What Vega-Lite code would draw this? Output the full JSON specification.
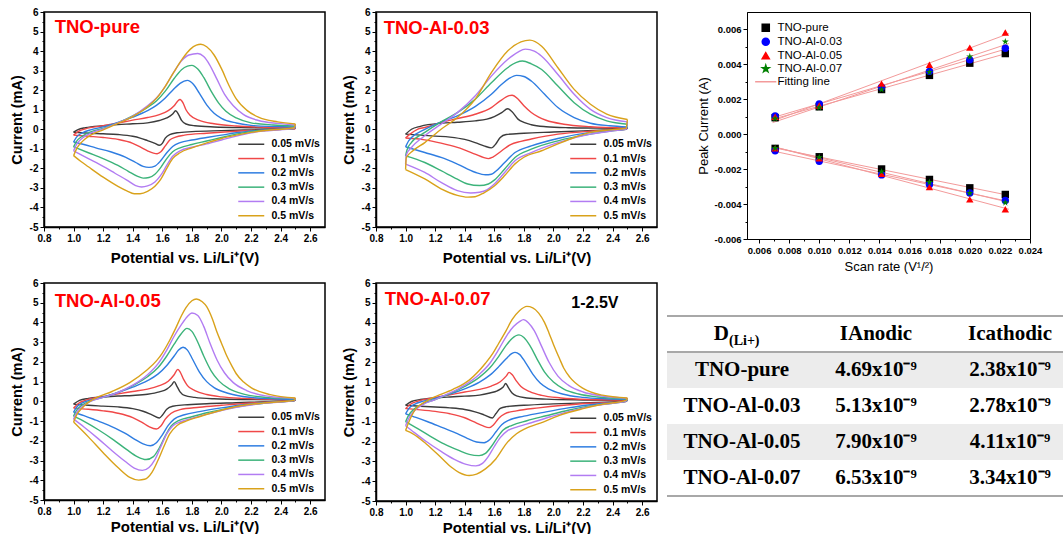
{
"$schema":"https://vega.github.io/schema/vega-lite/v6.json",
"background":"white",
"padding":{"left":8,"top":6,"right":0,"bottom":0},
"spacing":3,
"resolve":{"scale":{"color":"independent","shape":"independent"},"legend":{"color":"independent","shape":"independent"}},
"config":{
"font":"Liberation Sans",
"view":{"stroke":"#000","strokeWidth":1.5},
"axis":{"grid":false,"domainColor":"#000","tickColor":"#000","labelColor":"#000","titleColor":"#000","labelFont":"Liberation Sans","titleFont":"Liberation Sans","labelFontWeight":"bold","labelFontSize":10,"titleFontWeight":"bold","labelOverlap":false,"labelFlush":false,"labelPadding":2}
},
"datasets":{
"p1":[
{"r":0.05,"b":0,"v":1,"i":-0.15},{"r":0.05,"b":0,"v":1.03,"i":-0.02},{"r":0.05,"b":0,"v":1.08,"i":0.08},{"r":0.05,"b":0,"v":1.2,"i":0.18},{"r":0.05,"b":0,"v":1.3,"i":0.24},{"r":0.05,"b":0,"v":1.4,"i":0.28},{"r":0.05,"b":0,"v":1.5,"i":0.33},{"r":0.05,"b":0,"v":1.58,"i":0.45},{"r":0.05,"b":0,"v":1.63,"i":0.58},{"r":0.05,"b":0,"v":1.67,"i":0.78},{"r":0.05,"b":0,"v":1.69,"i":0.95},{"r":0.05,"b":0,"v":1.71,"i":0.75},{"r":0.05,"b":0,"v":1.73,"i":0.45},{"r":0.05,"b":0,"v":1.76,"i":0.27},{"r":0.05,"b":0,"v":1.82,"i":0.18},{"r":0.05,"b":0,"v":1.95,"i":0.12},{"r":0.05,"b":0,"v":2.2,"i":0.08},{"r":0.05,"b":0,"v":2.5,"i":0.05},
{"r":0.05,"b":1,"v":1,"i":-0.15},{"r":0.05,"b":1,"v":1.1,"i":-0.2},{"r":0.05,"b":1,"v":1.2,"i":-0.23},{"r":0.05,"b":1,"v":1.3,"i":-0.27},{"r":0.05,"b":1,"v":1.4,"i":-0.36},{"r":0.05,"b":1,"v":1.45,"i":-0.45},{"r":0.05,"b":1,"v":1.5,"i":-0.58},{"r":0.05,"b":1,"v":1.55,"i":-0.72},{"r":0.05,"b":1,"v":1.58,"i":-0.82},{"r":0.05,"b":1,"v":1.6,"i":-0.72},{"r":0.05,"b":1,"v":1.62,"i":-0.45},{"r":0.05,"b":1,"v":1.65,"i":-0.27},{"r":0.05,"b":1,"v":1.7,"i":-0.18},{"r":0.05,"b":1,"v":1.8,"i":-0.12},{"r":0.05,"b":1,"v":2,"i":-0.07},{"r":0.05,"b":1,"v":2.2,"i":-0.03},{"r":0.05,"b":1,"v":2.49,"i":0.02},{"r":0.05,"b":1,"v":2.5,"i":0.05},
{"r":0.1,"b":0,"v":1,"i":-0.3},{"r":0.1,"b":0,"v":1.03,"i":-0.12},{"r":0.1,"b":0,"v":1.08,"i":0.02},{"r":0.1,"b":0,"v":1.2,"i":0.18},{"r":0.1,"b":0,"v":1.3,"i":0.32},{"r":0.1,"b":0,"v":1.4,"i":0.47},{"r":0.1,"b":0,"v":1.5,"i":0.6},{"r":0.1,"b":0,"v":1.58,"i":0.75},{"r":0.1,"b":0,"v":1.64,"i":0.95},{"r":0.1,"b":0,"v":1.68,"i":1.2},{"r":0.1,"b":0,"v":1.705,"i":1.45},{"r":0.1,"b":0,"v":1.72,"i":1.52},{"r":0.1,"b":0,"v":1.74,"i":1.35},{"r":0.1,"b":0,"v":1.76,"i":1.0},{"r":0.1,"b":0,"v":1.79,"i":0.7},{"r":0.1,"b":0,"v":1.85,"i":0.45},{"r":0.1,"b":0,"v":1.95,"i":0.28},{"r":0.1,"b":0,"v":2.1,"i":0.17},{"r":0.1,"b":0,"v":2.3,"i":0.1},{"r":0.1,"b":0,"v":2.5,"i":0.07},
{"r":0.1,"b":1,"v":1,"i":-0.3},{"r":0.1,"b":1,"v":1.1,"i":-0.36},{"r":0.1,"b":1,"v":1.2,"i":-0.42},{"r":0.1,"b":1,"v":1.3,"i":-0.52},{"r":0.1,"b":1,"v":1.4,"i":-0.72},{"r":0.1,"b":1,"v":1.45,"i":-0.9},{"r":0.1,"b":1,"v":1.5,"i":-1.1},{"r":0.1,"b":1,"v":1.54,"i":-1.22},{"r":0.1,"b":1,"v":1.565,"i":-1.25},{"r":0.1,"b":1,"v":1.59,"i":-1.15},{"r":0.1,"b":1,"v":1.62,"i":-0.85},{"r":0.1,"b":1,"v":1.65,"i":-0.55},{"r":0.1,"b":1,"v":1.69,"i":-0.4},{"r":0.1,"b":1,"v":1.75,"i":-0.3},{"r":0.1,"b":1,"v":1.9,"i":-0.2},{"r":0.1,"b":1,"v":2.1,"i":-0.1},{"r":0.1,"b":1,"v":2.3,"i":-0.03},{"r":0.1,"b":1,"v":2.49,"i":0.02},{"r":0.1,"b":1,"v":2.5,"i":0.07},
{"r":0.2,"b":0,"v":1,"i":-0.65},{"r":0.2,"b":0,"v":1.02,"i":-0.4},{"r":0.2,"b":0,"v":1.06,"i":-0.18},{"r":0.2,"b":0,"v":1.12,"i":-0.02},{"r":0.2,"b":0,"v":1.2,"i":0.12},{"r":0.2,"b":0,"v":1.3,"i":0.35},{"r":0.2,"b":0,"v":1.4,"i":0.62},{"r":0.2,"b":0,"v":1.5,"i":0.95},{"r":0.2,"b":0,"v":1.56,"i":1.22},{"r":0.2,"b":0,"v":1.62,"i":1.6},{"r":0.2,"b":0,"v":1.67,"i":2.0},{"r":0.2,"b":0,"v":1.72,"i":2.35},{"r":0.2,"b":0,"v":1.77,"i":2.5},{"r":0.2,"b":0,"v":1.81,"i":2.3},{"r":0.2,"b":0,"v":1.85,"i":1.85},{"r":0.2,"b":0,"v":1.9,"i":1.25},{"r":0.2,"b":0,"v":1.95,"i":0.82},{"r":0.2,"b":0,"v":2,"i":0.56},{"r":0.2,"b":0,"v":2.1,"i":0.32},{"r":0.2,"b":0,"v":2.2,"i":0.2},{"r":0.2,"b":0,"v":2.35,"i":0.14},{"r":0.2,"b":0,"v":2.5,"i":0.12},
{"r":0.2,"b":1,"v":1,"i":-0.65},{"r":0.2,"b":1,"v":1.07,"i":-0.78},{"r":0.2,"b":1,"v":1.15,"i":-0.95},{"r":0.2,"b":1,"v":1.25,"i":-1.15},{"r":0.2,"b":1,"v":1.35,"i":-1.42},{"r":0.2,"b":1,"v":1.42,"i":-1.7},{"r":0.2,"b":1,"v":1.47,"i":-1.9},{"r":0.2,"b":1,"v":1.51,"i":-1.95},{"r":0.2,"b":1,"v":1.55,"i":-1.88},{"r":0.2,"b":1,"v":1.59,"i":-1.6},{"r":0.2,"b":1,"v":1.63,"i":-1.2},{"r":0.2,"b":1,"v":1.67,"i":-0.88},{"r":0.2,"b":1,"v":1.72,"i":-0.68},{"r":0.2,"b":1,"v":1.8,"i":-0.55},{"r":0.2,"b":1,"v":1.9,"i":-0.42},{"r":0.2,"b":1,"v":2,"i":-0.3},{"r":0.2,"b":1,"v":2.1,"i":-0.18},{"r":0.2,"b":1,"v":2.2,"i":-0.08},{"r":0.2,"b":1,"v":2.3,"i":-0.03},{"r":0.2,"b":1,"v":2.49,"i":0.05},{"r":0.2,"b":1,"v":2.5,"i":0.12},
{"r":0.3,"b":0,"v":1,"i":-0.9},{"r":0.3,"b":0,"v":1.02,"i":-0.62},{"r":0.3,"b":0,"v":1.06,"i":-0.35},{"r":0.3,"b":0,"v":1.12,"i":-0.12},{"r":0.3,"b":0,"v":1.2,"i":0.05},{"r":0.3,"b":0,"v":1.3,"i":0.33},{"r":0.3,"b":0,"v":1.4,"i":0.68},{"r":0.3,"b":0,"v":1.5,"i":1.12},{"r":0.3,"b":0,"v":1.56,"i":1.45},{"r":0.3,"b":0,"v":1.62,"i":1.95},{"r":0.3,"b":0,"v":1.68,"i":2.6},{"r":0.3,"b":0,"v":1.73,"i":3.05},{"r":0.3,"b":0,"v":1.77,"i":3.23},{"r":0.3,"b":0,"v":1.8,"i":3.27},{"r":0.3,"b":0,"v":1.84,"i":3.08},{"r":0.3,"b":0,"v":1.88,"i":2.65},{"r":0.3,"b":0,"v":1.93,"i":1.95},{"r":0.3,"b":0,"v":1.98,"i":1.35},{"r":0.3,"b":0,"v":2.03,"i":0.92},{"r":0.3,"b":0,"v":2.1,"i":0.58},{"r":0.3,"b":0,"v":2.2,"i":0.33},{"r":0.3,"b":0,"v":2.35,"i":0.22},{"r":0.3,"b":0,"v":2.5,"i":0.17},
{"r":0.3,"b":1,"v":1,"i":-0.9},{"r":0.3,"b":1,"v":1.1,"i":-1.2},{"r":0.3,"b":1,"v":1.2,"i":-1.5},{"r":0.3,"b":1,"v":1.3,"i":-1.85},{"r":0.3,"b":1,"v":1.37,"i":-2.15},{"r":0.3,"b":1,"v":1.43,"i":-2.4},{"r":0.3,"b":1,"v":1.47,"i":-2.5},{"r":0.3,"b":1,"v":1.51,"i":-2.47},{"r":0.3,"b":1,"v":1.55,"i":-2.3},{"r":0.3,"b":1,"v":1.59,"i":-1.95},{"r":0.3,"b":1,"v":1.63,"i":-1.5},{"r":0.3,"b":1,"v":1.67,"i":-1.15},{"r":0.3,"b":1,"v":1.72,"i":-0.95},{"r":0.3,"b":1,"v":1.8,"i":-0.78},{"r":0.3,"b":1,"v":1.9,"i":-0.6},{"r":0.3,"b":1,"v":2,"i":-0.42},{"r":0.3,"b":1,"v":2.1,"i":-0.25},{"r":0.3,"b":1,"v":2.2,"i":-0.12},{"r":0.3,"b":1,"v":2.3,"i":-0.05},{"r":0.3,"b":1,"v":2.49,"i":0.05},{"r":0.3,"b":1,"v":2.5,"i":0.17},
{"r":0.4,"b":0,"v":1,"i":-1.1},{"r":0.4,"b":0,"v":1.02,"i":-0.78},{"r":0.4,"b":0,"v":1.06,"i":-0.45},{"r":0.4,"b":0,"v":1.12,"i":-0.18},{"r":0.4,"b":0,"v":1.2,"i":0.02},{"r":0.4,"b":0,"v":1.3,"i":0.33},{"r":0.4,"b":0,"v":1.4,"i":0.68},{"r":0.4,"b":0,"v":1.5,"i":1.2},{"r":0.4,"b":0,"v":1.56,"i":1.6},{"r":0.4,"b":0,"v":1.62,"i":2.2},{"r":0.4,"b":0,"v":1.68,"i":2.95},{"r":0.4,"b":0,"v":1.73,"i":3.5},{"r":0.4,"b":0,"v":1.78,"i":3.8},{"r":0.4,"b":0,"v":1.84,"i":3.88},{"r":0.4,"b":0,"v":1.88,"i":3.72},{"r":0.4,"b":0,"v":1.92,"i":3.3},{"r":0.4,"b":0,"v":1.97,"i":2.55},{"r":0.4,"b":0,"v":2.02,"i":1.8},{"r":0.4,"b":0,"v":2.08,"i":1.2},{"r":0.4,"b":0,"v":2.15,"i":0.75},{"r":0.4,"b":0,"v":2.25,"i":0.45},{"r":0.4,"b":0,"v":2.38,"i":0.3},{"r":0.4,"b":0,"v":2.5,"i":0.22},
{"r":0.4,"b":1,"v":1,"i":-1.1},{"r":0.4,"b":1,"v":1.1,"i":-1.5},{"r":0.4,"b":1,"v":1.2,"i":-1.9},{"r":0.4,"b":1,"v":1.28,"i":-2.25},{"r":0.4,"b":1,"v":1.36,"i":-2.6},{"r":0.4,"b":1,"v":1.42,"i":-2.88},{"r":0.4,"b":1,"v":1.46,"i":-2.95},{"r":0.4,"b":1,"v":1.5,"i":-2.9},{"r":0.4,"b":1,"v":1.55,"i":-2.7},{"r":0.4,"b":1,"v":1.59,"i":-2.35},{"r":0.4,"b":1,"v":1.63,"i":-1.85},{"r":0.4,"b":1,"v":1.67,"i":-1.38},{"r":0.4,"b":1,"v":1.72,"i":-1.1},{"r":0.4,"b":1,"v":1.8,"i":-0.92},{"r":0.4,"b":1,"v":1.9,"i":-0.75},{"r":0.4,"b":1,"v":2,"i":-0.55},{"r":0.4,"b":1,"v":2.1,"i":-0.35},{"r":0.4,"b":1,"v":2.2,"i":-0.18},{"r":0.4,"b":1,"v":2.3,"i":-0.08},{"r":0.4,"b":1,"v":2.49,"i":0.05},{"r":0.4,"b":1,"v":2.5,"i":0.22},
{"r":0.5,"b":0,"v":1,"i":-1.35},{"r":0.5,"b":0,"v":1.02,"i":-1.0},{"r":0.5,"b":0,"v":1.06,"i":-0.62},{"r":0.5,"b":0,"v":1.12,"i":-0.28},{"r":0.5,"b":0,"v":1.2,"i":-0.03},{"r":0.5,"b":0,"v":1.3,"i":0.3},{"r":0.5,"b":0,"v":1.4,"i":0.65},{"r":0.5,"b":0,"v":1.5,"i":1.15},{"r":0.5,"b":0,"v":1.56,"i":1.58},{"r":0.5,"b":0,"v":1.62,"i":2.2},{"r":0.5,"b":0,"v":1.68,"i":2.95},{"r":0.5,"b":0,"v":1.74,"i":3.65},{"r":0.5,"b":0,"v":1.79,"i":4.1},{"r":0.5,"b":0,"v":1.83,"i":4.3},{"r":0.5,"b":0,"v":1.86,"i":4.35},{"r":0.5,"b":0,"v":1.9,"i":4.22},{"r":0.5,"b":0,"v":1.95,"i":3.8},{"r":0.5,"b":0,"v":2,"i":3.1},{"r":0.5,"b":0,"v":2.05,"i":2.25},{"r":0.5,"b":0,"v":2.1,"i":1.55},{"r":0.5,"b":0,"v":2.17,"i":0.98},{"r":0.5,"b":0,"v":2.25,"i":0.62},{"r":0.5,"b":0,"v":2.38,"i":0.38},{"r":0.5,"b":0,"v":2.5,"i":0.27},
{"r":0.5,"b":1,"v":1,"i":-1.35},{"r":0.5,"b":1,"v":1.05,"i":-1.65},{"r":0.5,"b":1,"v":1.1,"i":-1.92},{"r":0.5,"b":1,"v":1.2,"i":-2.45},{"r":0.5,"b":1,"v":1.3,"i":-2.92},{"r":0.5,"b":1,"v":1.36,"i":-3.15},{"r":0.5,"b":1,"v":1.41,"i":-3.3},{"r":0.5,"b":1,"v":1.45,"i":-3.3},{"r":0.5,"b":1,"v":1.5,"i":-3.18},{"r":0.5,"b":1,"v":1.55,"i":-2.92},{"r":0.5,"b":1,"v":1.59,"i":-2.55},{"r":0.5,"b":1,"v":1.63,"i":-2.0},{"r":0.5,"b":1,"v":1.67,"i":-1.5},{"r":0.5,"b":1,"v":1.72,"i":-1.2},{"r":0.5,"b":1,"v":1.8,"i":-0.95},{"r":0.5,"b":1,"v":1.9,"i":-0.7},{"r":0.5,"b":1,"v":2,"i":-0.47},{"r":0.5,"b":1,"v":2.1,"i":-0.3},{"r":0.5,"b":1,"v":2.2,"i":-0.16},{"r":0.5,"b":1,"v":2.3,"i":-0.06},{"r":0.5,"b":1,"v":2.49,"i":0.08},{"r":0.5,"b":1,"v":2.5,"i":0.27}
],
"p2":[
{"r":0.05,"b":0,"v":1,"i":-0.25},{"r":0.05,"b":0,"v":1.04,"i":0.0},{"r":0.05,"b":0,"v":1.1,"i":0.15},{"r":0.05,"b":0,"v":1.24,"i":0.31},{"r":0.05,"b":0,"v":1.35,"i":0.36},{"r":0.05,"b":0,"v":1.47,"i":0.43},{"r":0.05,"b":0,"v":1.55,"i":0.52},{"r":0.05,"b":0,"v":1.6,"i":0.65},{"r":0.05,"b":0,"v":1.65,"i":0.85},{"r":0.05,"b":0,"v":1.69,"i":1.05},{"r":0.05,"b":0,"v":1.72,"i":0.9},{"r":0.05,"b":0,"v":1.76,"i":0.52},{"r":0.05,"b":0,"v":1.8,"i":0.35},{"r":0.05,"b":0,"v":1.85,"i":0.23},{"r":0.05,"b":0,"v":1.95,"i":0.13},{"r":0.05,"b":0,"v":2.1,"i":0.08},{"r":0.05,"b":0,"v":2.3,"i":0.06},{"r":0.05,"b":0,"v":2.5,"i":0.05},
{"r":0.05,"b":1,"v":1,"i":-0.25},{"r":0.05,"b":1,"v":1.1,"i":-0.3},{"r":0.05,"b":1,"v":1.2,"i":-0.35},{"r":0.05,"b":1,"v":1.3,"i":-0.4},{"r":0.05,"b":1,"v":1.4,"i":-0.52},{"r":0.05,"b":1,"v":1.47,"i":-0.68},{"r":0.05,"b":1,"v":1.53,"i":-0.85},{"r":0.05,"b":1,"v":1.58,"i":-0.95},{"r":0.05,"b":1,"v":1.61,"i":-0.75},{"r":0.05,"b":1,"v":1.64,"i":-0.42},{"r":0.05,"b":1,"v":1.68,"i":-0.27},{"r":0.05,"b":1,"v":1.8,"i":-0.2},{"r":0.05,"b":1,"v":2,"i":-0.14},{"r":0.05,"b":1,"v":2.2,"i":-0.08},{"r":0.05,"b":1,"v":2.35,"i":-0.03},{"r":0.05,"b":1,"v":2.49,"i":0.0},{"r":0.05,"b":1,"v":2.5,"i":0.05},
{"r":0.1,"b":0,"v":1,"i":-0.45},{"r":0.1,"b":0,"v":1.03,"i":-0.25},{"r":0.1,"b":0,"v":1.08,"i":0.0},{"r":0.1,"b":0,"v":1.13,"i":0.09},{"r":0.1,"b":0,"v":1.24,"i":0.35},{"r":0.1,"b":0,"v":1.35,"i":0.55},{"r":0.1,"b":0,"v":1.47,"i":0.77},{"r":0.1,"b":0,"v":1.58,"i":1.11},{"r":0.1,"b":0,"v":1.64,"i":1.45},{"r":0.1,"b":0,"v":1.7,"i":1.72},{"r":0.1,"b":0,"v":1.72,"i":1.74},{"r":0.1,"b":0,"v":1.76,"i":1.55},{"r":0.1,"b":0,"v":1.8,"i":1.2},{"r":0.1,"b":0,"v":1.85,"i":0.86},{"r":0.1,"b":0,"v":1.9,"i":0.62},{"r":0.1,"b":0,"v":1.95,"i":0.46},{"r":0.1,"b":0,"v":2.07,"i":0.26},{"r":0.1,"b":0,"v":2.25,"i":0.13},{"r":0.1,"b":0,"v":2.5,"i":0.06},
{"r":0.1,"b":1,"v":1,"i":-0.45},{"r":0.1,"b":1,"v":1.13,"i":-0.54},{"r":0.1,"b":1,"v":1.24,"i":-0.71},{"r":0.1,"b":1,"v":1.35,"i":-0.93},{"r":0.1,"b":1,"v":1.47,"i":-1.27},{"r":0.1,"b":1,"v":1.53,"i":-1.45},{"r":0.1,"b":1,"v":1.56,"i":-1.5},{"r":0.1,"b":1,"v":1.59,"i":-1.42},{"r":0.1,"b":1,"v":1.65,"i":-1.1},{"r":0.1,"b":1,"v":1.71,"i":-0.78},{"r":0.1,"b":1,"v":1.78,"i":-0.62},{"r":0.1,"b":1,"v":1.85,"i":-0.5},{"r":0.1,"b":1,"v":2.03,"i":-0.25},{"r":0.1,"b":1,"v":2.25,"i":-0.1},{"r":0.1,"b":1,"v":2.49,"i":0.0},{"r":0.1,"b":1,"v":2.5,"i":0.06},
{"r":0.2,"b":0,"v":1,"i":-0.9},{"r":0.2,"b":0,"v":1.02,"i":-0.6},{"r":0.2,"b":0,"v":1.04,"i":-0.42},{"r":0.2,"b":0,"v":1.13,"i":0.0},{"r":0.2,"b":0,"v":1.24,"i":0.38},{"r":0.2,"b":0,"v":1.35,"i":0.69},{"r":0.2,"b":0,"v":1.47,"i":1.16},{"r":0.2,"b":0,"v":1.58,"i":1.79},{"r":0.2,"b":0,"v":1.65,"i":2.3},{"r":0.2,"b":0,"v":1.7,"i":2.6},{"r":0.2,"b":0,"v":1.75,"i":2.76},{"r":0.2,"b":0,"v":1.8,"i":2.7},{"r":0.2,"b":0,"v":1.85,"i":2.47},{"r":0.2,"b":0,"v":1.94,"i":1.79},{"r":0.2,"b":0,"v":2.03,"i":1.11},{"r":0.2,"b":0,"v":2.14,"i":0.6},{"r":0.2,"b":0,"v":2.25,"i":0.31},{"r":0.2,"b":0,"v":2.38,"i":0.18},{"r":0.2,"b":0,"v":2.5,"i":0.12},
{"r":0.2,"b":1,"v":1,"i":-0.9},{"r":0.2,"b":1,"v":1.13,"i":-1.19},{"r":0.2,"b":1,"v":1.24,"i":-1.44},{"r":0.2,"b":1,"v":1.35,"i":-1.78},{"r":0.2,"b":1,"v":1.47,"i":-2.2},{"r":0.2,"b":1,"v":1.54,"i":-2.33},{"r":0.2,"b":1,"v":1.58,"i":-2.3},{"r":0.2,"b":1,"v":1.61,"i":-2.15},{"r":0.2,"b":1,"v":1.67,"i":-1.7},{"r":0.2,"b":1,"v":1.74,"i":-1.19},{"r":0.2,"b":1,"v":1.85,"i":-0.85},{"r":0.2,"b":1,"v":2.03,"i":-0.47},{"r":0.2,"b":1,"v":2.25,"i":-0.16},{"r":0.2,"b":1,"v":2.4,"i":-0.05},{"r":0.2,"b":1,"v":2.49,"i":0.01},{"r":0.2,"b":1,"v":2.5,"i":0.12},
{"r":0.3,"b":0,"v":1,"i":-1.36},{"r":0.3,"b":0,"v":1.01,"i":-1.05},{"r":0.3,"b":0,"v":1.04,"i":-0.67},{"r":0.3,"b":0,"v":1.13,"i":-0.16},{"r":0.3,"b":0,"v":1.24,"i":0.38},{"r":0.3,"b":0,"v":1.35,"i":0.85},{"r":0.3,"b":0,"v":1.47,"i":1.53},{"r":0.3,"b":0,"v":1.58,"i":2.38},{"r":0.3,"b":0,"v":1.69,"i":3.15},{"r":0.3,"b":0,"v":1.75,"i":3.42},{"r":0.3,"b":0,"v":1.79,"i":3.49},{"r":0.3,"b":0,"v":1.85,"i":3.35},{"r":0.3,"b":0,"v":1.92,"i":3.06},{"r":0.3,"b":0,"v":2.03,"i":2.21},{"r":0.3,"b":0,"v":2.14,"i":1.36},{"r":0.3,"b":0,"v":2.25,"i":0.77},{"r":0.3,"b":0,"v":2.36,"i":0.43},{"r":0.3,"b":0,"v":2.5,"i":0.26},
{"r":0.3,"b":1,"v":1,"i":-1.36},{"r":0.3,"b":1,"v":1.13,"i":-1.7},{"r":0.3,"b":1,"v":1.24,"i":-2.12},{"r":0.3,"b":1,"v":1.35,"i":-2.55},{"r":0.3,"b":1,"v":1.42,"i":-2.8},{"r":0.3,"b":1,"v":1.5,"i":-2.88},{"r":0.3,"b":1,"v":1.56,"i":-2.8},{"r":0.3,"b":1,"v":1.6,"i":-2.6},{"r":0.3,"b":1,"v":1.67,"i":-2.03},{"r":0.3,"b":1,"v":1.74,"i":-1.44},{"r":0.3,"b":1,"v":1.85,"i":-1.02},{"r":0.3,"b":1,"v":2.03,"i":-0.59},{"r":0.3,"b":1,"v":2.25,"i":-0.25},{"r":0.3,"b":1,"v":2.4,"i":-0.08},{"r":0.3,"b":1,"v":2.49,"i":0.0},{"r":0.3,"b":1,"v":2.5,"i":0.26},
{"r":0.4,"b":0,"v":1,"i":-1.78},{"r":0.4,"b":0,"v":1.005,"i":-1.3},{"r":0.4,"b":0,"v":1.04,"i":-0.93},{"r":0.4,"b":0,"v":1.13,"i":-0.33},{"r":0.4,"b":0,"v":1.24,"i":0.26},{"r":0.4,"b":0,"v":1.35,"i":0.85},{"r":0.4,"b":0,"v":1.47,"i":1.7},{"r":0.4,"b":0,"v":1.58,"i":2.72},{"r":0.4,"b":0,"v":1.69,"i":3.57},{"r":0.4,"b":0,"v":1.76,"i":3.95},{"r":0.4,"b":0,"v":1.81,"i":4.1},{"r":0.4,"b":0,"v":1.87,"i":4.0},{"r":0.4,"b":0,"v":1.92,"i":3.74},{"r":0.4,"b":0,"v":2.03,"i":2.8},{"r":0.4,"b":0,"v":2.14,"i":1.79},{"r":0.4,"b":0,"v":2.25,"i":1.02},{"r":0.4,"b":0,"v":2.36,"i":0.6},{"r":0.4,"b":0,"v":2.5,"i":0.38},
{"r":0.4,"b":1,"v":1,"i":-1.78},{"r":0.4,"b":1,"v":1.13,"i":-2.21},{"r":0.4,"b":1,"v":1.24,"i":-2.72},{"r":0.4,"b":1,"v":1.35,"i":-3.14},{"r":0.4,"b":1,"v":1.44,"i":-3.26},{"r":0.4,"b":1,"v":1.5,"i":-3.22},{"r":0.4,"b":1,"v":1.55,"i":-3.1},{"r":0.4,"b":1,"v":1.6,"i":-2.8},{"r":0.4,"b":1,"v":1.67,"i":-2.21},{"r":0.4,"b":1,"v":1.74,"i":-1.61},{"r":0.4,"b":1,"v":1.85,"i":-1.19},{"r":0.4,"b":1,"v":2.03,"i":-0.68},{"r":0.4,"b":1,"v":2.25,"i":-0.25},{"r":0.4,"b":1,"v":2.4,"i":-0.08},{"r":0.4,"b":1,"v":2.49,"i":0.0},{"r":0.4,"b":1,"v":2.5,"i":0.38},
{"r":0.5,"b":0,"v":1,"i":-2.06},{"r":0.5,"b":0,"v":1.005,"i":-1.45},{"r":0.5,"b":0,"v":1.05,"i":-1.1},{"r":0.5,"b":0,"v":1.13,"i":-0.68},{"r":0.5,"b":0,"v":1.24,"i":0.0},{"r":0.5,"b":0,"v":1.35,"i":0.6},{"r":0.5,"b":0,"v":1.47,"i":1.53},{"r":0.5,"b":0,"v":1.58,"i":2.9},{"r":0.5,"b":0,"v":1.69,"i":4.0},{"r":0.5,"b":0,"v":1.78,"i":4.47},{"r":0.5,"b":0,"v":1.84,"i":4.56},{"r":0.5,"b":0,"v":1.92,"i":4.25},{"r":0.5,"b":0,"v":2.03,"i":3.15},{"r":0.5,"b":0,"v":2.14,"i":2.04},{"r":0.5,"b":0,"v":2.25,"i":1.28},{"r":0.5,"b":0,"v":2.36,"i":0.77},{"r":0.5,"b":0,"v":2.5,"i":0.5},
{"r":0.5,"b":1,"v":1,"i":-2.06},{"r":0.5,"b":1,"v":1.13,"i":-2.54},{"r":0.5,"b":1,"v":1.24,"i":-3.05},{"r":0.5,"b":1,"v":1.35,"i":-3.38},{"r":0.5,"b":1,"v":1.42,"i":-3.47},{"r":0.5,"b":1,"v":1.47,"i":-3.45},{"r":0.5,"b":1,"v":1.53,"i":-3.25},{"r":0.5,"b":1,"v":1.6,"i":-2.9},{"r":0.5,"b":1,"v":1.67,"i":-2.37},{"r":0.5,"b":1,"v":1.74,"i":-1.77},{"r":0.5,"b":1,"v":1.8,"i":-1.43},{"r":0.5,"b":1,"v":1.92,"i":-1.1},{"r":0.5,"b":1,"v":2.03,"i":-0.75},{"r":0.5,"b":1,"v":2.14,"i":-0.42},{"r":0.5,"b":1,"v":2.25,"i":-0.16},{"r":0.5,"b":1,"v":2.4,"i":-0.02},{"r":0.5,"b":1,"v":2.49,"i":0.05},{"r":0.5,"b":1,"v":2.5,"i":0.5}
],
"p3":[
{"r":0.05,"b":0,"v":1,"i":-0.14},{"r":0.05,"b":0,"v":1.04,"i":0.05},{"r":0.05,"b":0,"v":1.1,"i":0.15},{"r":0.05,"b":0,"v":1.2,"i":0.22},{"r":0.05,"b":0,"v":1.3,"i":0.27},{"r":0.05,"b":0,"v":1.4,"i":0.3},{"r":0.05,"b":0,"v":1.5,"i":0.36},{"r":0.05,"b":0,"v":1.58,"i":0.48},{"r":0.05,"b":0,"v":1.63,"i":0.62},{"r":0.05,"b":0,"v":1.665,"i":0.85},{"r":0.05,"b":0,"v":1.68,"i":1.0},{"r":0.05,"b":0,"v":1.7,"i":0.75},{"r":0.05,"b":0,"v":1.72,"i":0.48},{"r":0.05,"b":0,"v":1.75,"i":0.3},{"r":0.05,"b":0,"v":1.82,"i":0.2},{"r":0.05,"b":0,"v":1.95,"i":0.13},{"r":0.05,"b":0,"v":2.2,"i":0.09},{"r":0.05,"b":0,"v":2.5,"i":0.07},
{"r":0.05,"b":1,"v":1,"i":-0.14},{"r":0.05,"b":1,"v":1.1,"i":-0.2},{"r":0.05,"b":1,"v":1.2,"i":-0.24},{"r":0.05,"b":1,"v":1.3,"i":-0.28},{"r":0.05,"b":1,"v":1.4,"i":-0.37},{"r":0.05,"b":1,"v":1.47,"i":-0.5},{"r":0.05,"b":1,"v":1.53,"i":-0.68},{"r":0.05,"b":1,"v":1.58,"i":-0.84},{"r":0.05,"b":1,"v":1.6,"i":-0.7},{"r":0.05,"b":1,"v":1.63,"i":-0.4},{"r":0.05,"b":1,"v":1.67,"i":-0.25},{"r":0.05,"b":1,"v":1.75,"i":-0.18},{"r":0.05,"b":1,"v":1.9,"i":-0.12},{"r":0.05,"b":1,"v":2.1,"i":-0.07},{"r":0.05,"b":1,"v":2.3,"i":-0.02},{"r":0.05,"b":1,"v":2.49,"i":0.03},{"r":0.05,"b":1,"v":2.5,"i":0.07},
{"r":0.1,"b":0,"v":1,"i":-0.34},{"r":0.1,"b":0,"v":1.03,"i":-0.12},{"r":0.1,"b":0,"v":1.08,"i":0.05},{"r":0.1,"b":0,"v":1.2,"i":0.25},{"r":0.1,"b":0,"v":1.3,"i":0.38},{"r":0.1,"b":0,"v":1.4,"i":0.5},{"r":0.1,"b":0,"v":1.5,"i":0.62},{"r":0.1,"b":0,"v":1.58,"i":0.8},{"r":0.1,"b":0,"v":1.64,"i":1.02},{"r":0.1,"b":0,"v":1.68,"i":1.35},{"r":0.1,"b":0,"v":1.705,"i":1.62},{"r":0.1,"b":0,"v":1.72,"i":1.5},{"r":0.1,"b":0,"v":1.745,"i":1.1},{"r":0.1,"b":0,"v":1.77,"i":0.8},{"r":0.1,"b":0,"v":1.82,"i":0.55},{"r":0.1,"b":0,"v":1.9,"i":0.35},{"r":0.1,"b":0,"v":2,"i":0.23},{"r":0.1,"b":0,"v":2.15,"i":0.15},{"r":0.1,"b":0,"v":2.35,"i":0.1},{"r":0.1,"b":0,"v":2.5,"i":0.08},
{"r":0.1,"b":1,"v":1,"i":-0.34},{"r":0.1,"b":1,"v":1.1,"i":-0.4},{"r":0.1,"b":1,"v":1.2,"i":-0.48},{"r":0.1,"b":1,"v":1.3,"i":-0.6},{"r":0.1,"b":1,"v":1.4,"i":-0.82},{"r":0.1,"b":1,"v":1.46,"i":-1.05},{"r":0.1,"b":1,"v":1.51,"i":-1.28},{"r":0.1,"b":1,"v":1.56,"i":-1.4},{"r":0.1,"b":1,"v":1.59,"i":-1.25},{"r":0.1,"b":1,"v":1.62,"i":-0.9},{"r":0.1,"b":1,"v":1.66,"i":-0.6},{"r":0.1,"b":1,"v":1.72,"i":-0.42},{"r":0.1,"b":1,"v":1.85,"i":-0.3},{"r":0.1,"b":1,"v":2,"i":-0.2},{"r":0.1,"b":1,"v":2.2,"i":-0.08},{"r":0.1,"b":1,"v":2.35,"i":-0.02},{"r":0.1,"b":1,"v":2.49,"i":0.03},{"r":0.1,"b":1,"v":2.5,"i":0.08},
{"r":0.2,"b":0,"v":1,"i":-0.55},{"r":0.2,"b":0,"v":1.02,"i":-0.3},{"r":0.2,"b":0,"v":1.06,"i":-0.08},{"r":0.2,"b":0,"v":1.12,"i":0.08},{"r":0.2,"b":0,"v":1.2,"i":0.22},{"r":0.2,"b":0,"v":1.3,"i":0.45},{"r":0.2,"b":0,"v":1.4,"i":0.72},{"r":0.2,"b":0,"v":1.5,"i":1.05},{"r":0.2,"b":0,"v":1.57,"i":1.38},{"r":0.2,"b":0,"v":1.63,"i":1.82},{"r":0.2,"b":0,"v":1.68,"i":2.3},{"r":0.2,"b":0,"v":1.71,"i":2.6},{"r":0.2,"b":0,"v":1.74,"i":2.74},{"r":0.2,"b":0,"v":1.77,"i":2.6},{"r":0.2,"b":0,"v":1.8,"i":2.2},{"r":0.2,"b":0,"v":1.85,"i":1.5},{"r":0.2,"b":0,"v":1.9,"i":1.0},{"r":0.2,"b":0,"v":1.95,"i":0.7},{"r":0.2,"b":0,"v":2.05,"i":0.4},{"r":0.2,"b":0,"v":2.2,"i":0.2},{"r":0.2,"b":0,"v":2.35,"i":0.13},{"r":0.2,"b":0,"v":2.5,"i":0.1},
{"r":0.2,"b":1,"v":1,"i":-0.55},{"r":0.2,"b":1,"v":1.07,"i":-0.72},{"r":0.2,"b":1,"v":1.15,"i":-0.95},{"r":0.2,"b":1,"v":1.25,"i":-1.25},{"r":0.2,"b":1,"v":1.35,"i":-1.62},{"r":0.2,"b":1,"v":1.42,"i":-1.95},{"r":0.2,"b":1,"v":1.47,"i":-2.15},{"r":0.2,"b":1,"v":1.52,"i":-2.25},{"r":0.2,"b":1,"v":1.56,"i":-2.1},{"r":0.2,"b":1,"v":1.6,"i":-1.7},{"r":0.2,"b":1,"v":1.64,"i":-1.22},{"r":0.2,"b":1,"v":1.68,"i":-0.9},{"r":0.2,"b":1,"v":1.75,"i":-0.68},{"r":0.2,"b":1,"v":1.85,"i":-0.52},{"r":0.2,"b":1,"v":2,"i":-0.33},{"r":0.2,"b":1,"v":2.15,"i":-0.17},{"r":0.2,"b":1,"v":2.3,"i":-0.06},{"r":0.2,"b":1,"v":2.49,"i":0.04},{"r":0.2,"b":1,"v":2.5,"i":0.1},
{"r":0.3,"b":0,"v":1,"i":-0.75},{"r":0.3,"b":0,"v":1.02,"i":-0.45},{"r":0.3,"b":0,"v":1.06,"i":-0.18},{"r":0.3,"b":0,"v":1.12,"i":0.03},{"r":0.3,"b":0,"v":1.2,"i":0.2},{"r":0.3,"b":0,"v":1.3,"i":0.45},{"r":0.3,"b":0,"v":1.4,"i":0.8},{"r":0.3,"b":0,"v":1.5,"i":1.25},{"r":0.3,"b":0,"v":1.57,"i":1.7},{"r":0.3,"b":0,"v":1.63,"i":2.3},{"r":0.3,"b":0,"v":1.68,"i":2.9},{"r":0.3,"b":0,"v":1.72,"i":3.35},{"r":0.3,"b":0,"v":1.767,"i":3.7},{"r":0.3,"b":0,"v":1.8,"i":3.55},{"r":0.3,"b":0,"v":1.84,"i":3.0},{"r":0.3,"b":0,"v":1.88,"i":2.3},{"r":0.3,"b":0,"v":1.93,"i":1.55},{"r":0.3,"b":0,"v":1.98,"i":1.05},{"r":0.3,"b":0,"v":2.05,"i":0.65},{"r":0.3,"b":0,"v":2.15,"i":0.37},{"r":0.3,"b":0,"v":2.3,"i":0.2},{"r":0.3,"b":0,"v":2.5,"i":0.13},
{"r":0.3,"b":1,"v":1,"i":-0.75},{"r":0.3,"b":1,"v":1.08,"i":-1.05},{"r":0.3,"b":1,"v":1.17,"i":-1.45},{"r":0.3,"b":1,"v":1.27,"i":-1.95},{"r":0.3,"b":1,"v":1.36,"i":-2.45},{"r":0.3,"b":1,"v":1.43,"i":-2.8},{"r":0.3,"b":1,"v":1.49,"i":-2.95},{"r":0.3,"b":1,"v":1.54,"i":-2.8},{"r":0.3,"b":1,"v":1.58,"i":-2.35},{"r":0.3,"b":1,"v":1.62,"i":-1.75},{"r":0.3,"b":1,"v":1.66,"i":-1.25},{"r":0.3,"b":1,"v":1.71,"i":-0.98},{"r":0.3,"b":1,"v":1.8,"i":-0.78},{"r":0.3,"b":1,"v":1.9,"i":-0.58},{"r":0.3,"b":1,"v":2,"i":-0.42},{"r":0.3,"b":1,"v":2.15,"i":-0.22},{"r":0.3,"b":1,"v":2.3,"i":-0.08},{"r":0.3,"b":1,"v":2.49,"i":0.04},{"r":0.3,"b":1,"v":2.5,"i":0.13},
{"r":0.4,"b":0,"v":1,"i":-0.9},{"r":0.4,"b":0,"v":1.02,"i":-0.58},{"r":0.4,"b":0,"v":1.06,"i":-0.25},{"r":0.4,"b":0,"v":1.12,"i":0.02},{"r":0.4,"b":0,"v":1.2,"i":0.2},{"r":0.4,"b":0,"v":1.3,"i":0.45},{"r":0.4,"b":0,"v":1.4,"i":0.82},{"r":0.4,"b":0,"v":1.5,"i":1.35},{"r":0.4,"b":0,"v":1.57,"i":1.9},{"r":0.4,"b":0,"v":1.63,"i":2.6},{"r":0.4,"b":0,"v":1.68,"i":3.3},{"r":0.4,"b":0,"v":1.73,"i":3.9},{"r":0.4,"b":0,"v":1.77,"i":4.3},{"r":0.4,"b":0,"v":1.8,"i":4.48},{"r":0.4,"b":0,"v":1.84,"i":4.35},{"r":0.4,"b":0,"v":1.88,"i":3.8},{"r":0.4,"b":0,"v":1.92,"i":3.0},{"r":0.4,"b":0,"v":1.97,"i":2.1},{"r":0.4,"b":0,"v":2.02,"i":1.45},{"r":0.4,"b":0,"v":2.08,"i":0.95},{"r":0.4,"b":0,"v":2.17,"i":0.55},{"r":0.4,"b":0,"v":2.3,"i":0.28},{"r":0.4,"b":0,"v":2.5,"i":0.15},
{"r":0.4,"b":1,"v":1,"i":-0.9},{"r":0.4,"b":1,"v":1.07,"i":-1.3},{"r":0.4,"b":1,"v":1.16,"i":-1.85},{"r":0.4,"b":1,"v":1.26,"i":-2.5},{"r":0.4,"b":1,"v":1.35,"i":-3.05},{"r":0.4,"b":1,"v":1.41,"i":-3.38},{"r":0.4,"b":1,"v":1.465,"i":-3.5},{"r":0.4,"b":1,"v":1.51,"i":-3.35},{"r":0.4,"b":1,"v":1.55,"i":-2.95},{"r":0.4,"b":1,"v":1.59,"i":-2.3},{"r":0.4,"b":1,"v":1.63,"i":-1.65},{"r":0.4,"b":1,"v":1.67,"i":-1.25},{"r":0.4,"b":1,"v":1.73,"i":-1.02},{"r":0.4,"b":1,"v":1.82,"i":-0.82},{"r":0.4,"b":1,"v":1.92,"i":-0.62},{"r":0.4,"b":1,"v":2.02,"i":-0.43},{"r":0.4,"b":1,"v":2.15,"i":-0.24},{"r":0.4,"b":1,"v":2.3,"i":-0.09},{"r":0.4,"b":1,"v":2.49,"i":0.04},{"r":0.4,"b":1,"v":2.5,"i":0.15},
{"r":0.5,"b":0,"v":1,"i":-1.05},{"r":0.5,"b":0,"v":1.02,"i":-0.7},{"r":0.5,"b":0,"v":1.06,"i":-0.32},{"r":0.5,"b":0,"v":1.1,"i":-0.05},{"r":0.5,"b":0,"v":1.15,"i":0.17},{"r":0.5,"b":0,"v":1.26,"i":0.5},{"r":0.5,"b":0,"v":1.38,"i":0.95},{"r":0.5,"b":0,"v":1.49,"i":1.55},{"r":0.5,"b":0,"v":1.56,"i":2.05},{"r":0.5,"b":0,"v":1.6,"i":2.45},{"r":0.5,"b":0,"v":1.65,"i":3.1},{"r":0.5,"b":0,"v":1.69,"i":3.7},{"r":0.5,"b":0,"v":1.73,"i":4.35},{"r":0.5,"b":0,"v":1.76,"i":4.75},{"r":0.5,"b":0,"v":1.8,"i":5.1},{"r":0.5,"b":0,"v":1.83,"i":5.19},{"r":0.5,"b":0,"v":1.87,"i":5.05},{"r":0.5,"b":0,"v":1.9,"i":4.8},{"r":0.5,"b":0,"v":1.94,"i":4.15},{"r":0.5,"b":0,"v":1.97,"i":3.5},{"r":0.5,"b":0,"v":2,"i":2.95},{"r":0.5,"b":0,"v":2.03,"i":2.4},{"r":0.5,"b":0,"v":2.07,"i":1.8},{"r":0.5,"b":0,"v":2.1,"i":1.4},{"r":0.5,"b":0,"v":2.15,"i":0.98},{"r":0.5,"b":0,"v":2.2,"i":0.7},{"r":0.5,"b":0,"v":2.33,"i":0.34},{"r":0.5,"b":0,"v":2.5,"i":0.17},
{"r":0.5,"b":1,"v":1,"i":-1.05},{"r":0.5,"b":1,"v":1.1,"i":-1.8},{"r":0.5,"b":1,"v":1.2,"i":-2.6},{"r":0.5,"b":1,"v":1.3,"i":-3.35},{"r":0.5,"b":1,"v":1.38,"i":-3.85},{"r":0.5,"b":1,"v":1.44,"i":-3.99},{"r":0.5,"b":1,"v":1.48,"i":-3.95},{"r":0.5,"b":1,"v":1.53,"i":-3.6},{"r":0.5,"b":1,"v":1.57,"i":-3.0},{"r":0.5,"b":1,"v":1.61,"i":-2.3},{"r":0.5,"b":1,"v":1.65,"i":-1.65},{"r":0.5,"b":1,"v":1.7,"i":-1.22},{"r":0.5,"b":1,"v":1.76,"i":-1.0},{"r":0.5,"b":1,"v":1.85,"i":-0.78},{"r":0.5,"b":1,"v":1.95,"i":-0.55},{"r":0.5,"b":1,"v":2.05,"i":-0.35},{"r":0.5,"b":1,"v":2.15,"i":-0.2},{"r":0.5,"b":1,"v":2.3,"i":-0.07},{"r":0.5,"b":1,"v":2.49,"i":0.05},{"r":0.5,"b":1,"v":2.5,"i":0.17}
],
"p4":[
{"r":0.05,"b":0,"v":1,"i":-0.17},{"r":0.05,"b":0,"v":1.04,"i":0.02},{"r":0.05,"b":0,"v":1.1,"i":0.12},{"r":0.05,"b":0,"v":1.2,"i":0.2},{"r":0.05,"b":0,"v":1.3,"i":0.25},{"r":0.05,"b":0,"v":1.4,"i":0.29},{"r":0.05,"b":0,"v":1.5,"i":0.34},{"r":0.05,"b":0,"v":1.57,"i":0.45},{"r":0.05,"b":0,"v":1.62,"i":0.56},{"r":0.05,"b":0,"v":1.66,"i":0.75},{"r":0.05,"b":0,"v":1.677,"i":0.93},{"r":0.05,"b":0,"v":1.695,"i":0.72},{"r":0.05,"b":0,"v":1.72,"i":0.45},{"r":0.05,"b":0,"v":1.75,"i":0.3},{"r":0.05,"b":0,"v":1.82,"i":0.2},{"r":0.05,"b":0,"v":1.95,"i":0.14},{"r":0.05,"b":0,"v":2.2,"i":0.1},{"r":0.05,"b":0,"v":2.5,"i":0.08},
{"r":0.05,"b":1,"v":1,"i":-0.17},{"r":0.05,"b":1,"v":1.1,"i":-0.22},{"r":0.05,"b":1,"v":1.2,"i":-0.26},{"r":0.05,"b":1,"v":1.3,"i":-0.3},{"r":0.05,"b":1,"v":1.4,"i":-0.38},{"r":0.05,"b":1,"v":1.47,"i":-0.5},{"r":0.05,"b":1,"v":1.53,"i":-0.65},{"r":0.05,"b":1,"v":1.587,"i":-0.81},{"r":0.05,"b":1,"v":1.61,"i":-0.6},{"r":0.05,"b":1,"v":1.64,"i":-0.33},{"r":0.05,"b":1,"v":1.68,"i":-0.24},{"r":0.05,"b":1,"v":1.8,"i":-0.17},{"r":0.05,"b":1,"v":2,"i":-0.1},{"r":0.05,"b":1,"v":2.2,"i":-0.05},{"r":0.05,"b":1,"v":2.35,"i":-0.01},{"r":0.05,"b":1,"v":2.49,"i":0.03},{"r":0.05,"b":1,"v":2.5,"i":0.08},
{"r":0.1,"b":0,"v":1,"i":-0.34},{"r":0.1,"b":0,"v":1.03,"i":-0.13},{"r":0.1,"b":0,"v":1.08,"i":0.03},{"r":0.1,"b":0,"v":1.2,"i":0.22},{"r":0.1,"b":0,"v":1.3,"i":0.36},{"r":0.1,"b":0,"v":1.4,"i":0.5},{"r":0.1,"b":0,"v":1.5,"i":0.63},{"r":0.1,"b":0,"v":1.58,"i":0.8},{"r":0.1,"b":0,"v":1.64,"i":1.02},{"r":0.1,"b":0,"v":1.68,"i":1.3},{"r":0.1,"b":0,"v":1.7,"i":1.49},{"r":0.1,"b":0,"v":1.72,"i":1.38},{"r":0.1,"b":0,"v":1.75,"i":1.05},{"r":0.1,"b":0,"v":1.78,"i":0.78},{"r":0.1,"b":0,"v":1.84,"i":0.52},{"r":0.1,"b":0,"v":1.92,"i":0.33},{"r":0.1,"b":0,"v":2.05,"i":0.2},{"r":0.1,"b":0,"v":2.25,"i":0.12},{"r":0.1,"b":0,"v":2.5,"i":0.09},
{"r":0.1,"b":1,"v":1,"i":-0.34},{"r":0.1,"b":1,"v":1.1,"i":-0.4},{"r":0.1,"b":1,"v":1.2,"i":-0.48},{"r":0.1,"b":1,"v":1.3,"i":-0.6},{"r":0.1,"b":1,"v":1.4,"i":-0.8},{"r":0.1,"b":1,"v":1.46,"i":-1.0},{"r":0.1,"b":1,"v":1.52,"i":-1.2},{"r":0.1,"b":1,"v":1.565,"i":-1.3},{"r":0.1,"b":1,"v":1.595,"i":-1.15},{"r":0.1,"b":1,"v":1.63,"i":-0.82},{"r":0.1,"b":1,"v":1.67,"i":-0.6},{"r":0.1,"b":1,"v":1.75,"i":-0.45},{"r":0.1,"b":1,"v":1.9,"i":-0.3},{"r":0.1,"b":1,"v":2.05,"i":-0.18},{"r":0.1,"b":1,"v":2.25,"i":-0.07},{"r":0.1,"b":1,"v":2.49,"i":0.02},{"r":0.1,"b":1,"v":2.5,"i":0.09},
{"r":0.2,"b":0,"v":1,"i":-0.6},{"r":0.2,"b":0,"v":1.02,"i":-0.35},{"r":0.2,"b":0,"v":1.06,"i":-0.12},{"r":0.2,"b":0,"v":1.12,"i":0.04},{"r":0.2,"b":0,"v":1.2,"i":0.18},{"r":0.2,"b":0,"v":1.3,"i":0.4},{"r":0.2,"b":0,"v":1.4,"i":0.66},{"r":0.2,"b":0,"v":1.5,"i":1.0},{"r":0.2,"b":0,"v":1.57,"i":1.35},{"r":0.2,"b":0,"v":1.63,"i":1.78},{"r":0.2,"b":0,"v":1.68,"i":2.18},{"r":0.2,"b":0,"v":1.72,"i":2.45},{"r":0.2,"b":0,"v":1.74,"i":2.5},{"r":0.2,"b":0,"v":1.77,"i":2.4},{"r":0.2,"b":0,"v":1.81,"i":2.0},{"r":0.2,"b":0,"v":1.86,"i":1.4},{"r":0.2,"b":0,"v":1.91,"i":0.95},{"r":0.2,"b":0,"v":1.97,"i":0.64},{"r":0.2,"b":0,"v":2.06,"i":0.4},{"r":0.2,"b":0,"v":2.2,"i":0.23},{"r":0.2,"b":0,"v":2.35,"i":0.16},{"r":0.2,"b":0,"v":2.5,"i":0.13},
{"r":0.2,"b":1,"v":1,"i":-0.6},{"r":0.2,"b":1,"v":1.07,"i":-0.78},{"r":0.2,"b":1,"v":1.15,"i":-1.0},{"r":0.2,"b":1,"v":1.25,"i":-1.3},{"r":0.2,"b":1,"v":1.35,"i":-1.6},{"r":0.2,"b":1,"v":1.42,"i":-1.85},{"r":0.2,"b":1,"v":1.48,"i":-2.02},{"r":0.2,"b":1,"v":1.531,"i":-2.06},{"r":0.2,"b":1,"v":1.57,"i":-1.9},{"r":0.2,"b":1,"v":1.61,"i":-1.52},{"r":0.2,"b":1,"v":1.65,"i":-1.15},{"r":0.2,"b":1,"v":1.7,"i":-0.92},{"r":0.2,"b":1,"v":1.8,"i":-0.72},{"r":0.2,"b":1,"v":1.95,"i":-0.5},{"r":0.2,"b":1,"v":2.1,"i":-0.3},{"r":0.2,"b":1,"v":2.25,"i":-0.14},{"r":0.2,"b":1,"v":2.4,"i":-0.04},{"r":0.2,"b":1,"v":2.49,"i":0.03},{"r":0.2,"b":1,"v":2.5,"i":0.13},
{"r":0.3,"b":0,"v":1,"i":-1.0},{"r":0.3,"b":0,"v":1.02,"i":-0.68},{"r":0.3,"b":0,"v":1.06,"i":-0.35},{"r":0.3,"b":0,"v":1.12,"i":-0.08},{"r":0.3,"b":0,"v":1.2,"i":0.12},{"r":0.3,"b":0,"v":1.3,"i":0.42},{"r":0.3,"b":0,"v":1.4,"i":0.78},{"r":0.3,"b":0,"v":1.5,"i":1.25},{"r":0.3,"b":0,"v":1.57,"i":1.72},{"r":0.3,"b":0,"v":1.63,"i":2.3},{"r":0.3,"b":0,"v":1.68,"i":2.85},{"r":0.3,"b":0,"v":1.72,"i":3.2},{"r":0.3,"b":0,"v":1.767,"i":3.38},{"r":0.3,"b":0,"v":1.8,"i":3.25},{"r":0.3,"b":0,"v":1.84,"i":2.85},{"r":0.3,"b":0,"v":1.89,"i":2.15},{"r":0.3,"b":0,"v":1.94,"i":1.5},{"r":0.3,"b":0,"v":2,"i":1.0},{"r":0.3,"b":0,"v":2.07,"i":0.65},{"r":0.3,"b":0,"v":2.17,"i":0.4},{"r":0.3,"b":0,"v":2.3,"i":0.25},{"r":0.3,"b":0,"v":2.5,"i":0.16},
{"r":0.3,"b":1,"v":1,"i":-1.0},{"r":0.3,"b":1,"v":1.07,"i":-1.3},{"r":0.3,"b":1,"v":1.16,"i":-1.7},{"r":0.3,"b":1,"v":1.26,"i":-2.12},{"r":0.3,"b":1,"v":1.36,"i":-2.45},{"r":0.3,"b":1,"v":1.43,"i":-2.65},{"r":0.3,"b":1,"v":1.497,"i":-2.71},{"r":0.3,"b":1,"v":1.54,"i":-2.6},{"r":0.3,"b":1,"v":1.58,"i":-2.25},{"r":0.3,"b":1,"v":1.62,"i":-1.8},{"r":0.3,"b":1,"v":1.66,"i":-1.42},{"r":0.3,"b":1,"v":1.72,"i":-1.18},{"r":0.3,"b":1,"v":1.82,"i":-0.95},{"r":0.3,"b":1,"v":1.95,"i":-0.7},{"r":0.3,"b":1,"v":2.1,"i":-0.42},{"r":0.3,"b":1,"v":2.25,"i":-0.2},{"r":0.3,"b":1,"v":2.4,"i":-0.07},{"r":0.3,"b":1,"v":2.49,"i":0.03},{"r":0.3,"b":1,"v":2.5,"i":0.16},
{"r":0.4,"b":0,"v":1,"i":-1.2},{"r":0.4,"b":0,"v":1.02,"i":-0.85},{"r":0.4,"b":0,"v":1.06,"i":-0.45},{"r":0.4,"b":0,"v":1.12,"i":-0.12},{"r":0.4,"b":0,"v":1.2,"i":0.12},{"r":0.4,"b":0,"v":1.3,"i":0.45},{"r":0.4,"b":0,"v":1.4,"i":0.85},{"r":0.4,"b":0,"v":1.5,"i":1.4},{"r":0.4,"b":0,"v":1.57,"i":1.95},{"r":0.4,"b":0,"v":1.63,"i":2.65},{"r":0.4,"b":0,"v":1.68,"i":3.3},{"r":0.4,"b":0,"v":1.73,"i":3.8},{"r":0.4,"b":0,"v":1.77,"i":4.05},{"r":0.4,"b":0,"v":1.797,"i":4.15},{"r":0.4,"b":0,"v":1.83,"i":4.0},{"r":0.4,"b":0,"v":1.87,"i":3.6},{"r":0.4,"b":0,"v":1.92,"i":2.8},{"r":0.4,"b":0,"v":1.97,"i":2.0},{"r":0.4,"b":0,"v":2.03,"i":1.3},{"r":0.4,"b":0,"v":2.1,"i":0.85},{"r":0.4,"b":0,"v":2.2,"i":0.5},{"r":0.4,"b":0,"v":2.33,"i":0.3},{"r":0.4,"b":0,"v":2.5,"i":0.18},
{"r":0.4,"b":1,"v":1,"i":-1.2},{"r":0.4,"b":1,"v":1.06,"i":-1.55},{"r":0.4,"b":1,"v":1.14,"i":-2.0},{"r":0.4,"b":1,"v":1.24,"i":-2.5},{"r":0.4,"b":1,"v":1.33,"i":-2.9},{"r":0.4,"b":1,"v":1.41,"i":-3.15},{"r":0.4,"b":1,"v":1.475,"i":-3.23},{"r":0.4,"b":1,"v":1.52,"i":-3.1},{"r":0.4,"b":1,"v":1.56,"i":-2.75},{"r":0.4,"b":1,"v":1.6,"i":-2.25},{"r":0.4,"b":1,"v":1.64,"i":-1.8},{"r":0.4,"b":1,"v":1.69,"i":-1.45},{"r":0.4,"b":1,"v":1.76,"i":-1.25},{"r":0.4,"b":1,"v":1.85,"i":-1.05},{"r":0.4,"b":1,"v":1.98,"i":-0.75},{"r":0.4,"b":1,"v":2.12,"i":-0.45},{"r":0.4,"b":1,"v":2.27,"i":-0.2},{"r":0.4,"b":1,"v":2.4,"i":-0.07},{"r":0.4,"b":1,"v":2.49,"i":0.04},{"r":0.4,"b":1,"v":2.5,"i":0.18},
{"r":0.5,"b":0,"v":1,"i":-1.44},{"r":0.5,"b":0,"v":1.02,"i":-1.05},{"r":0.5,"b":0,"v":1.07,"i":-0.34},{"r":0.5,"b":0,"v":1.12,"i":-0.05},{"r":0.5,"b":0,"v":1.18,"i":0.2},{"r":0.5,"b":0,"v":1.32,"i":0.63},{"r":0.5,"b":0,"v":1.43,"i":1.1},{"r":0.5,"b":0,"v":1.54,"i":1.95},{"r":0.5,"b":0,"v":1.59,"i":2.45},{"r":0.5,"b":0,"v":1.63,"i":2.96},{"r":0.5,"b":0,"v":1.68,"i":3.6},{"r":0.5,"b":0,"v":1.72,"i":4.15},{"r":0.5,"b":0,"v":1.77,"i":4.6},{"r":0.5,"b":0,"v":1.82,"i":4.82},{"r":0.5,"b":0,"v":1.86,"i":4.75},{"r":0.5,"b":0,"v":1.9,"i":4.48},{"r":0.5,"b":0,"v":1.94,"i":4.0},{"r":0.5,"b":0,"v":1.97,"i":3.47},{"r":0.5,"b":0,"v":2,"i":2.9},{"r":0.5,"b":0,"v":2.04,"i":2.2},{"r":0.5,"b":0,"v":2.07,"i":1.7},{"r":0.5,"b":0,"v":2.11,"i":1.25},{"r":0.5,"b":0,"v":2.2,"i":0.68},{"r":0.5,"b":0,"v":2.33,"i":0.34},{"r":0.5,"b":0,"v":2.5,"i":0.2},
{"r":0.5,"b":1,"v":1,"i":-1.44},{"r":0.5,"b":1,"v":1.05,"i":-1.61},{"r":0.5,"b":1,"v":1.14,"i":-2.12},{"r":0.5,"b":1,"v":1.25,"i":-2.88},{"r":0.5,"b":1,"v":1.31,"i":-3.3},{"r":0.5,"b":1,"v":1.36,"i":-3.55},{"r":0.5,"b":1,"v":1.43,"i":-3.71},{"r":0.5,"b":1,"v":1.48,"i":-3.64},{"r":0.5,"b":1,"v":1.54,"i":-3.38},{"r":0.5,"b":1,"v":1.61,"i":-2.88},{"r":0.5,"b":1,"v":1.68,"i":-2.12},{"r":0.5,"b":1,"v":1.75,"i":-1.61},{"r":0.5,"b":1,"v":1.81,"i":-1.35},{"r":0.5,"b":1,"v":1.93,"i":-1.02},{"r":0.5,"b":1,"v":2.04,"i":-0.68},{"r":0.5,"b":1,"v":2.2,"i":-0.34},{"r":0.5,"b":1,"v":2.33,"i":-0.12},{"r":0.5,"b":1,"v":2.49,"i":0.08},{"r":0.5,"b":1,"v":2.5,"i":0.2}
],
"pk":[
{"s":"TNO-pure","k":"a","x":0.00707,"y":0.00095},{"s":"TNO-pure","k":"a","x":0.01,"y":0.00157},{"s":"TNO-pure","k":"a","x":0.01414,"y":0.00256},{"s":"TNO-pure","k":"a","x":0.01732,"y":0.00337},{"s":"TNO-pure","k":"a","x":0.02,"y":0.00407},{"s":"TNO-pure","k":"a","x":0.02236,"y":0.00462},
{"s":"TNO-pure","k":"c","x":0.00707,"y":-0.00081},{"s":"TNO-pure","k":"c","x":0.01,"y":-0.00129},{"s":"TNO-pure","k":"c","x":0.01414,"y":-0.00199},{"s":"TNO-pure","k":"c","x":0.01732,"y":-0.00259},{"s":"TNO-pure","k":"c","x":0.02,"y":-0.00307},{"s":"TNO-pure","k":"c","x":0.02236,"y":-0.00345},
{"s":"TNO-Al-0.03","k":"a","x":0.00707,"y":0.00104},{"s":"TNO-Al-0.03","k":"a","x":0.01,"y":0.00174},{"s":"TNO-Al-0.03","k":"a","x":0.01414,"y":0.00269},{"s":"TNO-Al-0.03","k":"a","x":0.01732,"y":0.0036},{"s":"TNO-Al-0.03","k":"a","x":0.02,"y":0.00426},{"s":"TNO-Al-0.03","k":"a","x":0.02236,"y":0.00492},
{"s":"TNO-Al-0.03","k":"c","x":0.00707,"y":-0.00095},{"s":"TNO-Al-0.03","k":"c","x":0.01,"y":-0.00155},{"s":"TNO-Al-0.03","k":"c","x":0.01414,"y":-0.00233},{"s":"TNO-Al-0.03","k":"c","x":0.01732,"y":-0.00288},{"s":"TNO-Al-0.03","k":"c","x":0.02,"y":-0.00337},{"s":"TNO-Al-0.03","k":"c","x":0.02236,"y":-0.00379},
{"s":"TNO-Al-0.05","k":"a","x":0.00707,"y":0.001},{"s":"TNO-Al-0.05","k":"a","x":0.01,"y":0.00165},{"s":"TNO-Al-0.05","k":"a","x":0.01414,"y":0.0029},{"s":"TNO-Al-0.05","k":"a","x":0.01732,"y":0.00398},{"s":"TNO-Al-0.05","k":"a","x":0.02,"y":0.00496},{"s":"TNO-Al-0.05","k":"a","x":0.02236,"y":0.00583},
{"s":"TNO-Al-0.05","k":"c","x":0.00707,"y":-0.00081},{"s":"TNO-Al-0.05","k":"c","x":0.01,"y":-0.00138},{"s":"TNO-Al-0.05","k":"c","x":0.01414,"y":-0.00227},{"s":"TNO-Al-0.05","k":"c","x":0.01732,"y":-0.00303},{"s":"TNO-Al-0.05","k":"c","x":0.02,"y":-0.00373},{"s":"TNO-Al-0.05","k":"c","x":0.02236,"y":-0.0043},
{"s":"TNO-Al-0.07","k":"a","x":0.00707,"y":0.00089},{"s":"TNO-Al-0.07","k":"a","x":0.01,"y":0.00152},{"s":"TNO-Al-0.07","k":"a","x":0.01414,"y":0.00256},{"s":"TNO-Al-0.07","k":"a","x":0.01732,"y":0.00356},{"s":"TNO-Al-0.07","k":"a","x":0.02,"y":0.00445},{"s":"TNO-Al-0.07","k":"a","x":0.02236,"y":0.0053},
{"s":"TNO-Al-0.07","k":"c","x":0.00707,"y":-0.0008},{"s":"TNO-Al-0.07","k":"c","x":0.01,"y":-0.00133},{"s":"TNO-Al-0.07","k":"c","x":0.01414,"y":-0.00214},{"s":"TNO-Al-0.07","k":"c","x":0.01732,"y":-0.00275},{"s":"TNO-Al-0.07","k":"c","x":0.02,"y":-0.00337},{"s":"TNO-Al-0.07","k":"c","x":0.02236,"y":-0.00392}
],
"tb":[
{"r":"h","c":"a","t":"D","sub":"(Li+)"},{"r":"h","c":"b","t":"IAnodic"},{"r":"h","c":"c","t":"Icathodic"},
{"r":"1","c":"a","t":"TNO-pure"},{"r":"1","c":"b","t":"4.69x10⁻⁹"},{"r":"1","c":"c","t":"2.38x10⁻⁹"},
{"r":"2","c":"a","t":"TNO-Al-0.03"},{"r":"2","c":"b","t":"5.13x10⁻⁹"},{"r":"2","c":"c","t":"2.78x10⁻⁹"},
{"r":"3","c":"a","t":"TNO-Al-0.05"},{"r":"3","c":"b","t":"7.90x10⁻⁹"},{"r":"3","c":"c","t":"4.11x10⁻⁹"},
{"r":"4","c":"a","t":"TNO-Al-0.07"},{"r":"4","c":"b","t":"6.53x10⁻⁹"},{"r":"4","c":"c","t":"3.34x10⁻⁹"}
]
},
"vconcat":[
{"hconcat":[
{"width":281,"height":215,"resolve":{"axis":{"x":"independent","y":"independent"}},
 "layer":[
  {"data":{"name":"p1"},"mark":{"type":"line","interpolate":"monotone","strokeWidth":1.4},
   "encoding":{
    "x":{"field":"v","type":"quantitative","scale":{"domain":[0.8,2.7],"nice":false,"zero":false},"axis":{"orient":"bottom","title":"Potential vs. Li/Li⁺(V)","titleFontSize":15,"titlePadding":7,"domainWidth":1.5,"tickSize":4,"values":[0.8,1,1.2,1.4,1.6,1.8,2,2.2,2.4,2.6],"format":".1f"}},
    "y":{"field":"i","type":"quantitative","scale":{"domain":[-5,6],"nice":false,"zero":false},"axis":{"orient":"left","title":"Current (mA)","titleFontSize":14.5,"titlePadding":5,"domainWidth":1.5,"tickSize":4,"values":[-5,-4,-3,-2,-1,0,1,2,3,4,5,6],"labelExpr":"replace(format(datum.value,'.0f'),'−','-')"}},
    "color":{"field":"r","type":"ordinal","scale":{"domain":[0.05,0.1,0.2,0.3,0.4,0.5],"range":["#3c3c3c","#f04848","#2f7de1","#3cb37a","#b27cf2","#d9a21b"]},"legend":{"title":null,"orient":"bottom-right","offset":5,"padding":0,"symbolType":"M-6.5,0H6.5","symbolSize":16,"symbolStrokeWidth":1.5,"labelFontSize":10.5,"labelFontWeight":"bold","labelColor":"#000","labelOffset":15,"rowPadding":3.3,"labelExpr":"datum.label + ' mV/s'"}},
    "detail":{"field":"b"}}},
  {"data":{"values":[{}]},"mark":{"type":"text","text":"TNO-pure","color":"#ff0000","fontSize":18.5,"fontWeight":"bold","align":"left","baseline":"middle"},
   "encoding":{"x":{"datum":0.872,"axis":{"orient":"bottom","values":[0.9,1.1,1.3,1.5,1.7,1.9,2.1,2.3,2.5],"labels":false,"domain":false,"title":null,"tickSize":2}},"y":{"datum":5.22,"axis":{"orient":"left","values":[-4.5,-3.5,-2.5,-1.5,-0.5,0.5,1.5,2.5,3.5,4.5,5.5],"labels":false,"domain":false,"title":null,"tickSize":2}}}}
 ]},
{"width":51,"height":1,"data":{"values":[{}]},"mark":{"type":"point","opacity":0},"view":{"stroke":null}},
{"width":281,"height":215,"resolve":{"axis":{"x":"independent","y":"independent"}},
 "layer":[
  {"data":{"name":"p2"},"mark":{"type":"line","interpolate":"monotone","strokeWidth":1.4},
   "encoding":{
    "x":{"field":"v","type":"quantitative","scale":{"domain":[0.8,2.7],"nice":false,"zero":false},"axis":{"orient":"bottom","title":"Potential vs. Li/Li⁺(V)","titleFontSize":15,"titlePadding":7,"domainWidth":1.5,"tickSize":4,"values":[0.8,1,1.2,1.4,1.6,1.8,2,2.2,2.4,2.6],"format":".1f"}},
    "y":{"field":"i","type":"quantitative","scale":{"domain":[-5,6],"nice":false,"zero":false},"axis":{"orient":"left","title":"Current (mA)","titleFontSize":14.5,"titlePadding":5,"domainWidth":1.5,"tickSize":4,"values":[-5,-4,-3,-2,-1,0,1,2,3,4,5,6],"labelExpr":"replace(format(datum.value,'.0f'),'−','-')"}},
    "color":{"field":"r","type":"ordinal","scale":{"domain":[0.05,0.1,0.2,0.3,0.4,0.5],"range":["#3c3c3c","#f04848","#2f7de1","#3cb37a","#b27cf2","#d9a21b"]},"legend":{"title":null,"orient":"bottom-right","offset":5,"padding":0,"symbolType":"M-6.5,0H6.5","symbolSize":16,"symbolStrokeWidth":1.5,"labelFontSize":10.5,"labelFontWeight":"bold","labelColor":"#000","labelOffset":15,"rowPadding":3.3,"labelExpr":"datum.label + ' mV/s'"}},
    "detail":{"field":"b"}}},
  {"data":{"values":[{}]},"mark":{"type":"text","text":"TNO-Al-0.03","color":"#ff0000","fontSize":18.5,"fontWeight":"bold","align":"left","baseline":"middle"},
   "encoding":{"x":{"datum":0.852,"axis":{"orient":"bottom","values":[0.9,1.1,1.3,1.5,1.7,1.9,2.1,2.3,2.5],"labels":false,"domain":false,"title":null,"tickSize":2}},"y":{"datum":5.17,"axis":{"orient":"left","values":[-4.5,-3.5,-2.5,-1.5,-0.5,0.5,1.5,2.5,3.5,4.5,5.5],"labels":false,"domain":false,"title":null,"tickSize":2}}}}
 ]},
{"width":90,"height":1,"data":{"values":[{}]},"mark":{"type":"point","opacity":0},"view":{"stroke":null}},
{"width":283,"height":227,"data":{"name":"pk"},"view":{"stroke":"#000","strokeWidth":1},"resolve":{"axis":{"x":"independent","y":"independent"}},
 "layer":[
  {"transform":[{"regression":"y","on":"x","groupby":["s","k"],"extent":[0.0069,0.0226]}],
   "mark":{"type":"line","strokeWidth":1},
   "encoding":{
    "x":{"field":"x","type":"quantitative","scale":{"domain":[0.0052,0.024],"nice":false,"zero":false},"axis":{"orient":"bottom","values":[0.007,0.009,0.011,0.013,0.015,0.017,0.019,0.021,0.023],"labels":false,"domain":false,"title":null,"tickSize":2}},
    "y":{"field":"y","type":"quantitative","scale":{"domain":[-0.006,0.007],"nice":false,"zero":false},"axis":{"orient":"left","values":[-0.005,-0.003,-0.001,0.001,0.003,0.005],"labels":false,"domain":false,"title":null,"tickSize":2}},
    "color":{"datum":"Fitting line"},"detail":[{"field":"s"},{"field":"k"}]}},
  {"mark":{"type":"point","filled":true,"size":55,"opacity":1},
   "encoding":{
    "x":{"field":"x","type":"quantitative","axis":{"orient":"bottom","title":"Scan rate (V¹/²)","titleFontWeight":"normal","titleFontSize":13,"titlePadding":6,"labelFontSize":9.5,"domainWidth":1,"tickSize":4,"values":[0.006,0.008,0.01,0.012,0.014,0.016,0.018,0.02,0.022,0.024],"format":".3f"}},
    "y":{"field":"y","type":"quantitative","axis":{"orient":"left","title":"Peak Current  (A)","titleFontWeight":"normal","titleFontSize":13,"titlePadding":4,"labelFontSize":9.5,"domainWidth":1,"tickSize":4,"values":[-0.006,-0.004,-0.002,0,0.002,0.004,0.006],"labelExpr":"replace(format(datum.value,'.3f'),'−','-')"}},
    "color":{"field":"s","type":"nominal","scale":{"domain":["TNO-pure","TNO-Al-0.03","TNO-Al-0.05","TNO-Al-0.07","Fitting line"],"range":["#000000","#0000ff","#ff0000","#008000","#f39a9a"]},"legend":{"title":null,"orient":"top-left","offset":10,"padding":0,"labelFontSize":11.5,"labelFontWeight":"normal","labelColor":"#000","symbolSize":50,"symbolOffset":3,"rowPadding":0,"labelOffset":6}},
    "shape":{"field":"s","type":"nominal","scale":{"domain":["TNO-pure","TNO-Al-0.03","TNO-Al-0.05","TNO-Al-0.07","Fitting line"],"range":["square","circle","triangle-up","M0,-1L0.225,-0.31L0.95,-0.31L0.36,0.12L0.59,0.81L0,0.38L-0.59,0.81L-0.36,0.12L-0.95,-0.31L-0.225,-0.31Z","M-3,0H3"]},"legend":{"title":null,"orient":"top-left","offset":10,"padding":0,"labelFontSize":11.5,"labelFontWeight":"normal","labelColor":"#000","symbolSize":50,"symbolOffset":3,"rowPadding":0,"labelOffset":6}}}}
 ]}
],"spacing":0,"bounds":"flush","resolve":{"scale":{"color":"independent","shape":"independent"},"legend":{"color":"independent","shape":"independent"}}},
{"hconcat":[
{"width":281,"height":217,"resolve":{"axis":{"x":"independent","y":"independent"}},
 "layer":[
  {"data":{"name":"p3"},"mark":{"type":"line","interpolate":"monotone","strokeWidth":1.4},
   "encoding":{
    "x":{"field":"v","type":"quantitative","scale":{"domain":[0.8,2.7],"nice":false,"zero":false},"axis":{"orient":"bottom","title":"Potential vs. Li/Li⁺(V)","titleFontSize":15,"titlePadding":3,"domainWidth":1.5,"tickSize":4,"values":[0.8,1,1.2,1.4,1.6,1.8,2,2.2,2.4,2.6],"format":".1f"}},
    "y":{"field":"i","type":"quantitative","scale":{"domain":[-5,6],"nice":false,"zero":false},"axis":{"orient":"left","title":"Current (mA)","titleFontSize":14.5,"titlePadding":5,"domainWidth":1.5,"tickSize":4,"values":[-5,-4,-3,-2,-1,0,1,2,3,4,5,6],"labelExpr":"replace(format(datum.value,'.0f'),'−','-')"}},
    "color":{"field":"r","type":"ordinal","scale":{"domain":[0.05,0.1,0.2,0.3,0.4,0.5],"range":["#3c3c3c","#f04848","#2f7de1","#3cb37a","#b27cf2","#d9a21b"]},"legend":{"title":null,"orient":"bottom-right","offset":5,"padding":0,"symbolType":"M-6.5,0H6.5","symbolSize":16,"symbolStrokeWidth":1.5,"labelFontSize":10.5,"labelFontWeight":"bold","labelColor":"#000","labelOffset":15,"rowPadding":3.3,"labelExpr":"datum.label + ' mV/s'"}},
    "detail":{"field":"b"}}},
  {"data":{"values":[{}]},"mark":{"type":"text","text":"TNO-Al-0.05","color":"#ff0000","fontSize":18.5,"fontWeight":"bold","align":"left","baseline":"middle"},
   "encoding":{"x":{"datum":0.873,"axis":{"orient":"bottom","values":[0.9,1.1,1.3,1.5,1.7,1.9,2.1,2.3,2.5],"labels":false,"domain":false,"title":null,"tickSize":2}},"y":{"datum":5.1,"axis":{"orient":"left","values":[-4.5,-3.5,-2.5,-1.5,-0.5,0.5,1.5,2.5,3.5,4.5,5.5],"labels":false,"domain":false,"title":null,"tickSize":2}}}}
 ]},
{"width":51,"height":1,"data":{"values":[{}]},"mark":{"type":"point","opacity":0},"view":{"stroke":null}},
{"width":281,"height":218,"resolve":{"axis":{"x":"independent","y":"independent"}},
 "layer":[
  {"data":{"name":"p4"},"mark":{"type":"line","interpolate":"monotone","strokeWidth":1.4},
   "encoding":{
    "x":{"field":"v","type":"quantitative","scale":{"domain":[0.8,2.7],"nice":false,"zero":false},"axis":{"orient":"bottom","title":"Potential vs. Li/Li⁺(V)","titleFontSize":15,"titlePadding":3,"domainWidth":1.5,"tickSize":4,"values":[0.8,1,1.2,1.4,1.6,1.8,2,2.2,2.4,2.6],"format":".1f"}},
    "y":{"field":"i","type":"quantitative","scale":{"domain":[-5,6],"nice":false,"zero":false},"axis":{"orient":"left","title":"Current (mA)","titleFontSize":14.5,"titlePadding":5,"domainWidth":1.5,"tickSize":4,"values":[-5,-4,-3,-2,-1,0,1,2,3,4,5,6],"labelExpr":"replace(format(datum.value,'.0f'),'−','-')"}},
    "color":{"field":"r","type":"ordinal","scale":{"domain":[0.05,0.1,0.2,0.3,0.4,0.5],"range":["#3c3c3c","#f04848","#2f7de1","#3cb37a","#b27cf2","#d9a21b"]},"legend":{"title":null,"orient":"bottom-right","offset":5,"padding":0,"symbolType":"M-6.5,0H6.5","symbolSize":16,"symbolStrokeWidth":1.5,"labelFontSize":10.5,"labelFontWeight":"bold","labelColor":"#000","labelOffset":15,"rowPadding":3.3,"labelExpr":"datum.label + ' mV/s'"}},
    "detail":{"field":"b"}}},
  {"data":{"values":[{}]},"mark":{"type":"text","text":"TNO-Al-0.07","color":"#ff0000","fontSize":18.5,"fontWeight":"bold","align":"left","baseline":"middle"},
   "encoding":{"x":{"datum":0.859,"axis":{"orient":"bottom","values":[0.9,1.1,1.3,1.5,1.7,1.9,2.1,2.3,2.5],"labels":false,"domain":false,"title":null,"tickSize":2}},"y":{"datum":5.19,"axis":{"orient":"left","values":[-4.5,-3.5,-2.5,-1.5,-0.5,0.5,1.5,2.5,3.5,4.5,5.5],"labels":false,"domain":false,"title":null,"tickSize":2}}}},
  {"data":{"values":[{}]},"mark":{"type":"text","text":"1-2.5V","color":"#000","fontSize":16,"fontWeight":"bold","align":"center","baseline":"middle"},
   "encoding":{"x":{"datum":2.28,"axis":null},"y":{"datum":5.0,"axis":null}}}
 ]},
{"width":10,"height":1,"data":{"values":[{}]},"mark":{"type":"point","opacity":0},"view":{"stroke":null}},
{"width":398,"height":213,"data":{"name":"tb"},"view":{"stroke":null},
 "encoding":{"y":{"field":"r","type":"nominal","scale":{"domain":["h","1","2","3","4"],"paddingInner":0,"paddingOuter":0.46,"align":1},"axis":null}},
 "layer":[
  {"transform":[{"filter":"(datum.r==='1'||datum.r==='3')&&datum.c==='a'"}],"mark":{"type":"rect","color":"#ececec"},"encoding":{"x":{"value":0},"x2":{"value":"width"}}},
  {"transform":[{"filter":"datum.r==='h'&&datum.c==='a'"}],"mark":{"type":"rule","color":"#a8a8a8","strokeWidth":2},"encoding":{"y":{"field":"r","type":"nominal","bandPosition":0}}},
  {"transform":[{"filter":"datum.r==='h'&&datum.c==='a'"}],"mark":{"type":"rule","color":"#a8a8a8","strokeWidth":2},"encoding":{"y":{"field":"r","type":"nominal","bandPosition":1}}},
  {"transform":[{"filter":"datum.r==='4'&&datum.c==='a'"}],"mark":{"type":"rule","color":"#a8a8a8","strokeWidth":2},"encoding":{"y":{"field":"r","type":"nominal","bandPosition":1}}},
  {"transform":[{"filter":"!(datum.r==='h'&&datum.c==='a')"}],"mark":{"type":"text","font":"Liberation Serif","fontWeight":"bold","fontSize":21,"color":"#000","baseline":"middle"},
   "encoding":{"x":{"field":"c","type":"nominal","scale":{"type":"point","domain":["a","b","c"],"padding":0.485,"align":0.577},"axis":null},"text":{"field":"t"}}},
  {"transform":[{"filter":"datum.r==='h'&&datum.c==='a'"}],"mark":{"type":"text","font":"Liberation Serif","fontWeight":"bold","fontSize":21,"color":"#000","baseline":"middle","align":"right","dx":-13},
   "encoding":{"x":{"field":"c","type":"nominal"},"text":{"field":"t"}}},
  {"transform":[{"filter":"datum.r==='h'&&datum.c==='a'"}],"mark":{"type":"text","font":"Liberation Serif","fontWeight":"bold","fontSize":14,"color":"#000","baseline":"middle","align":"left","dx":-13,"dy":7},
   "encoding":{"x":{"field":"c","type":"nominal"},"text":{"field":"sub"}}}
 ]}
],"spacing":0,"bounds":"flush","resolve":{"scale":{"color":"independent","shape":"independent"},"legend":{"color":"independent","shape":"independent"}}}
]
}
